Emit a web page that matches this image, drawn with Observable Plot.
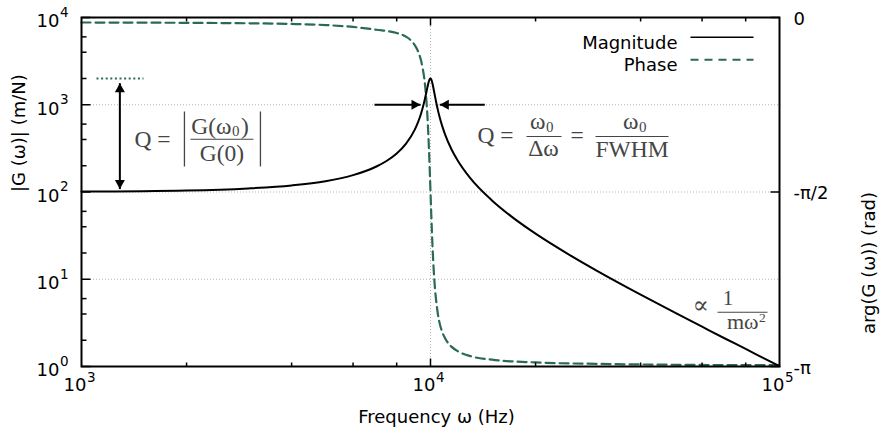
<!DOCTYPE html>
<html><head><meta charset="utf-8">
<script src="https://cdn.jsdelivr.net/npm/d3@7"></script>
<script src="https://cdn.jsdelivr.net/npm/@observablehq/plot@0.6"></script>
<style>body{margin:0;background:#fff}</style>
</head><body><div id="chart"></div>
<script>
// ---- data ----
const freq = [1000,2000,3000,4000,5000,6000,7000,7500,8000,8500,9000,9200,9300,9400,9500,9600,9700,9750,9800,9850,9900,9950,10000,10050,10100,10150,10200,10300,10400,10500,10600,10800,11000,11500,12000,13000,15000,17000,20000,25000,30000,40000,50000,60000,70000,80000,90000,100000];
const magnitude = [101,104,110,119,133,156,196,228,276,356,512,624,700,797,922,1088,1308,1441,1587,1738,1874,1971,2000,1952,1840,1693,1537,1254,1033,868,744,572,461,305,225,144,80,52.9,33.3,19.05,12.5,6.67,4.17,2.86,2.08,1.59,1.25,1.01];
const phaseFreq = [1000,2000,3000,4000,5000,6000,7000,8000,8500,9000,9200,9400,9500,9600,9700,9750,9800,9850,9900,9950,10000,10050,10100,10150,10200,10300,10400,10500,10600,10800,11000,11500,12000,13000,15000,20000,30000,50000,100000];
const phase = [-0.045,-0.048,-0.052,-0.058,-0.068,-0.085,-0.11,-0.14,-0.172,-0.245,-0.30,-0.39,-0.46,-0.55,-0.69,-0.78,-0.89,-1.03,-1.19,-1.37,-1.571,-1.77,-1.95,-2.11,-2.24,-2.44,-2.57,-2.67,-2.74,-2.83,-2.885,-2.965,-3.006,-3.048,-3.08,-3.105,-3.118,-3.126,-3.13];
const xDecades = [1e3, 1e4, 1e5];
const xExponents = ["3", "4", "5"];
const xMinorTicks = [2e3,4e3,6e3,8e3,2e4,4e4,6e4,8e4];
const yDecades = [1, 10, 100, 1000, 10000];
const yExponents = ["0", "1", "2", "3", "4"];
const yMinorTicks = [2,4,6,20,40,60,200,400,600,2000,4000,6000];
const phaseTicks = [0, -Math.PI / 2, -Math.PI];
const phaseTickLabels = ["0", "-π/2", "-π"];
const legendLabels = ["Magnitude", "Phase"];
const peakFreq = 1e4, peakMag = 2000, dcMag = 108, halfLevel = 1000;

// ---- helpers ----
// phase (right axis, linear -π..0) shares the frame with the log magnitude axis
const phaseToY = p => 10 ** (4 * (1 + p / Math.PI));
const pathSym = (pts, close) => ({draw(ctx) {
  ctx.moveTo(pts[0][0], pts[0][1]);
  for (const p of pts.slice(1)) ctx.lineTo(p[0], p[1]);
  if (close) ctx.closePath();
}});
const green = "#2b6a53";
const gray = "#454545";
const serif = "Liberation Serif, DejaVu Serif, serif";

const magData = freq.map((f, i) => ({f, v: magnitude[i]}));
const phaseData = phaseFreq.map((f, i) => ({f, v: phaseToY(phase[i])}));

function note(anchor, pieces) {
  return pieces.map(p => p.line
    ? Plot.dot([anchor], {x: "f", y: "m", symbol: pathSym(p.line), stroke: gray, strokeWidth: p.w || 1.1, fill: "none"})
    : Plot.text([anchor], {x: "f", y: "m", text: () => p.t, dx: p.dx, dy: p.dy, textAnchor: p.a || "start",
        fontSize: p.s || 23.5, fontFamily: serif, fill: gray}));
}

const tick = (pts) => pathSym(pts);

const plot = Plot.plot({
  width: 883, height: 438,
  marginLeft: 81, marginRight: 104, marginTop: 17, marginBottom: 72,
  style: {fontFamily: "DejaVu Sans", fontSize: "18px", background: "white", color: "black"},
  x: {type: "log", domain: [1e3, 1e5], axis: null},
  y: {type: "log", domain: [1, 1e4], axis: null},
  marks: [
    // grid
    Plot.ruleY([10, 100, 1000], {stroke: "#b5b5b5", strokeDasharray: "1,2", strokeWidth: 1}),
    Plot.ruleX([1e4], {stroke: "#b5b5b5", strokeDasharray: "1,2", strokeWidth: 1}),
    // curves
    Plot.line(phaseData, {x: "f", y: "v", stroke: green, strokeWidth: 2.2, strokeDasharray: "9,5", curve: "monotone-x"}),
    Plot.line(magData, {x: "f", y: "v", stroke: "black", strokeWidth: 2, curve: "monotone-x"}),
    // frame
    Plot.frame({stroke: "black", strokeWidth: 2}),
    // ticks
    Plot.dot(xMinorTicks, {x: d => d, frameAnchor: "bottom", symbol: tick([[0,0],[0,-4]]), stroke: "black", strokeWidth: 1.5, fill: "none"}),
    Plot.dot(xMinorTicks, {x: d => d, frameAnchor: "top", symbol: tick([[0,0],[0,4]]), stroke: "black", strokeWidth: 1.5, fill: "none"}),
    Plot.dot([1e4], {x: d => d, frameAnchor: "bottom", symbol: tick([[0,0],[0,-8]]), stroke: "black", strokeWidth: 1.5, fill: "none"}),
    Plot.dot([1e4], {x: d => d, frameAnchor: "top", symbol: tick([[0,0],[0,8]]), stroke: "black", strokeWidth: 1.5, fill: "none"}),
    Plot.dot(yMinorTicks, {y: d => d, frameAnchor: "left", symbol: tick([[0,0],[5,0]]), stroke: "black", strokeWidth: 1.5, fill: "none"}),
    Plot.dot(yDecades, {y: d => d, frameAnchor: "left", symbol: tick([[0,0],[9,0]]), stroke: "black", strokeWidth: 1.5, fill: "none"}),
    Plot.dot(phaseTicks, {y: d => phaseToY(d), frameAnchor: "right", symbol: tick([[0,0],[-9,0]]), stroke: "black", strokeWidth: 1.5, fill: "none"}),
    // tick labels
    Plot.text(yDecades, {y: d => d, frameAnchor: "left", text: () => "10", textAnchor: "end", dx: -22, dy: 4, fontSize: 18}),
    Plot.text(yDecades, {y: d => d, frameAnchor: "left", text: (d, i) => yExponents[i], textAnchor: "end", dx: -13, dy: -5, fontSize: 13.5}),
    Plot.text(xDecades, {x: d => d, frameAnchor: "bottom", text: () => "10", textAnchor: "end", dx: 5, dy: 24, fontSize: 18}),
    Plot.text(xDecades, {x: d => d, frameAnchor: "bottom", text: (d, i) => xExponents[i], textAnchor: "start", dx: 5.5, dy: 15, fontSize: 13.5}),
    Plot.text(phaseTicks, {y: d => phaseToY(d), frameAnchor: "right", text: (d, i) => phaseTickLabels[i], textAnchor: "start", dx: 14, dy: 1.5, fontSize: 18}),
    // axis titles
    Plot.text(["Frequency ω (Hz)"], {frameAnchor: "bottom", dx: 6, dy: 56, fontSize: 18}),
    Plot.text(["|G (ω)| (m/N)"], {frameAnchor: "left", rotate: -90, dx: -62, fontSize: 18}),
    Plot.text(["arg(G (ω)) (rad)"], {frameAnchor: "right", rotate: -90, dx: 90, fontSize: 18}),
    // legend
    Plot.text([legendLabels[0]], {frameAnchor: "top-right", textAnchor: "end", dx: -102, dy: 19, fontSize: 18}),
    Plot.text([legendLabels[1]], {frameAnchor: "top-right", textAnchor: "end", dx: -102, dy: 41, fontSize: 18}),
    Plot.dot([0], {frameAnchor: "top-right", dy: 19.7, symbol: pathSym([[-89,0],[-26,0]]), stroke: "black", strokeWidth: 1.5, fill: "none"}),
    Plot.dot([0], {frameAnchor: "top-right", dy: 42.3, symbol: pathSym([[-89,0],[-26,0]]), stroke: green, strokeWidth: 2, strokeDasharray: "8,6", fill: "none"}),
    // Q double arrow (DC level to peak level)
    Plot.link([{f: 1104, f2: 1505, m: peakMag}], {x1: "f", x2: "f2", y1: "m", y2: "m", stroke: green, strokeWidth: 2, strokeDasharray: "2,2.6"}),
    Plot.link([{f: 1288, m1: 1766, m2: dcMag}], {x1: "f", x2: "f", y1: "m1", y2: "m2", stroke: "black", strokeWidth: 2}),
    Plot.dot([{f: 1288, m: 1766}], {x: "f", y: "m", symbol: pathSym([[0,0],[-5,9],[5,9]], true), fill: "black", stroke: "none"}),
    Plot.dot([{f: 1288, m: dcMag}], {x: "f", y: "m", symbol: pathSym([[0,0],[-5,-9],[5,-9]], true), fill: "black", stroke: "none"}),
    // FWHM arrows
    Plot.link([{a: 6910, b: 9362, m: halfLevel}], {x1: "a", x2: "b", y1: "m", y2: "m", stroke: "black", strokeWidth: 2}),
    Plot.link([{a: 14307, b: 10632, m: halfLevel}], {x1: "a", x2: "b", y1: "m", y2: "m", stroke: "black", strokeWidth: 2}),
    Plot.dot([{f: 9362, m: halfLevel}], {x: "f", y: "m", symbol: pathSym([[0,0],[-9,-5],[-9,5]], true), fill: "black", stroke: "none"}),
    Plot.dot([{f: 10632, m: halfLevel}], {x: "f", y: "m", symbol: pathSym([[0,0],[9,-5],[9,5]], true), fill: "black", stroke: "none"}),
    // Q = |G(ω0)/G(0)|
    ...note({f: 1418, m: 403}, [
      {t: "Q =", dx: 0, dy: 0},
      {line: [[50,-27.7],[50,27.3]], w: 1.3},
      {line: [[126,-27.7],[126,27.3]], w: 1.3},
      {t: "G(ω", dx: 97, dy: -13.1, a: "end"},
      {t: "0", dx: 97.5, dy: -7.5, s: 15},
      {t: ")", dx: 106.5, dy: -13.1},
      {line: [[56,0],[119,0]]},
      {t: "G(0)", dx: 87.5, dy: 13.9, a: "middle"}
    ]),
    // Q = ω0/Δω = ω0/FWHM
    ...note({f: 13636, m: 432.6}, [
      {t: "Q =", dx: 0, dy: -0.9},
      {t: "ω", dx: 68, dy: -15.4, a: "end"},
      {t: "0", dx: 68.5, dy: -9.8, s: 15},
      {line: [[49,0],[84,0]]},
      {t: "Δω", dx: 66, dy: 11.6, a: "middle"},
      {t: "=", dx: 93, dy: -0.9},
      {t: "ω", dx: 161, dy: -15.4, a: "end"},
      {t: "0", dx: 161.5, dy: -9.8, s: 15},
      {line: [[118,0],[191,0]]},
      {t: "FWHM", dx: 154.5, dy: 12.6, a: "middle"}
    ]),
    // ∝ 1/(mω²)
    ...note({f: 56700, m: 4.19}, [
      {t: "∝", dx: -1, dy: -7, s: 24},
      {t: "1", dx: 34.5, dy: -14, a: "middle", s: 21},
      {line: [[24,0],[74,0]]},
      {t: "mω", dx: 65, dy: 10, a: "end", s: 22},
      {t: "2", dx: 65.5, dy: 5.5, s: 13.5}
    ])
  ]
});
document.getElementById("chart").appendChild(plot);
</script>
</body></html>
